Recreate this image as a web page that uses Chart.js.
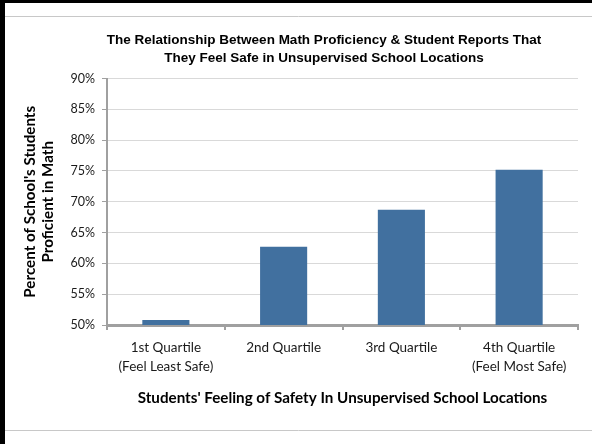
<!DOCTYPE html>
<html>
<head>
<meta charset="utf-8">
<script src="https://cdn.jsdelivr.net/npm/chart.js@4"></script>
<style>
  html, body { margin: 0; padding: 0; background: #ffffff; }
  #wrap { width: 592px; height: 444px; position: relative; }
</style>
</head>
<body>
<div id="wrap"><canvas id="c" width="592" height="444"></canvas></div>
<script>
const categories = [
  ["1st Quartile", "(Feel Least Safe)"],
  ["2nd Quartile"],
  ["3rd Quartile"],
  ["4th Quartile", "(Feel Most Safe)"]
];
const proficiency = [50.8, 62.7, 68.7, 75.2];
const chartTitle = ["The Relationship Between Math Proficiency & Student Reports That", "They Feel Safe in Unsupervised School Locations"];
const xTitle = "Students' Feeling of Safety In Unsupervised School Locations";
const yTitle = ["Percent of School's Students", "Proficient in Math"];
const yMin = 50, yMax = 90, yStep = 5;

const frame = {
  id: 'frame',
  beforeDraw(chart) {
    const ctx = chart.ctx;
    ctx.save();
    ctx.fillStyle = '#ffffff';
    ctx.fillRect(0, 0, chart.width, chart.height);
    ctx.fillStyle = '#000000';
    ctx.fillRect(0, 0, chart.width, 3);
    ctx.fillRect(0, 0, 5, chart.height);
    ctx.strokeStyle = '#c8c8c8';
    ctx.lineWidth = 1;
    ctx.beginPath();
    ctx.moveTo(5, 16.5); ctx.lineTo(chart.width, 16.5);
    ctx.moveTo(5, 430.5); ctx.lineTo(chart.width, 430.5);
    ctx.stroke();
    ctx.restore();
  }
};

const labelFont = "Lato, 'Open Sans', sans-serif";

new Chart(document.getElementById('c'), {
  type: 'bar',
  data: {
    labels: categories,
    datasets: [{
      data: proficiency,
      backgroundColor: '#41709f',
      borderWidth: 0,
      barPercentage: 0.4,
      categoryPercentage: 1.0
    }]
  },
  options: {
    responsive: false,
    animation: false,
    devicePixelRatio: 1,
    layout: { padding: { left: 70, right: 14, top: 32, bottom: 14 } },
    plugins: {
      legend: { display: false },
      tooltip: { enabled: false },
      title: {
        display: true,
        text: chartTitle,
        color: '#000000',
        font: { family: "'Liberation Sans', Arial, sans-serif", size: 13.5, weight: 'bold', lineHeight: 1.3 },
        padding: { top: 0, bottom: 11.4 }
      }
    },
    scales: {
      x: {
        grid: { display: true, drawOnChartArea: false, offset: true, tickLength: 5, tickColor: '#a0a0a0', lineWidth: 2 },
        border: { display: true, color: '#a0a0a0', width: 3 },
        ticks: { color: '#1a1a1a', font: { family: labelFont, size: 13.5, lineHeight: 1.35 }, padding: 9, maxRotation: 0, autoSkip: false },
        title: {
          display: true,
          text: xTitle,
          color: '#000000',
          font: { family: labelFont, size: 15.2, weight: 'bold', lineHeight: 1.2 },
          padding: { top: 0, bottom: 23 }
        },
        afterFit(scale) { scale.height = 105; }
      },
      y: {
        min: yMin,
        max: yMax,
        grid: { color: '#d9d9d9', lineWidth: 1, tickLength: 5, tickColor: '#a0a0a0', drawTicks: true },
        border: { display: true, color: '#a0a0a0', width: 2 },
        ticks: {
          stepSize: yStep,
          padding: 7,
          color: '#1a1a1a',
          font: { family: labelFont, size: 12.5 },
          callback: (v) => v + '%'
        },
        title: {
          display: true,
          text: yTitle,
          color: '#000000',
          font: { family: labelFont, size: 15.2, weight: 'bold', lineHeight: 1.2 },
          padding: { top: -49, bottom: 0 }
        },
        afterFit(scale) { scale.width = 37; }
      }
    }
  },
  plugins: [frame]
});
</script>
</body>
</html>
